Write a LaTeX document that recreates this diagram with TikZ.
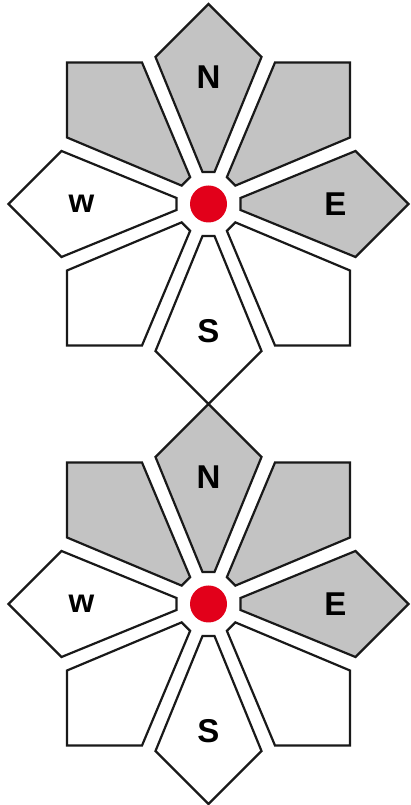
\documentclass[tikz,border=0pt]{standalone}
\usepackage{fontspec}
\setmainfont{Liberation Sans}
\usetikzlibrary{calc}
\definecolor{petalgray}{RGB}{195,195,195}
\definecolor{hubred}{RGB}{226,0,26}
\tikzstyle{petal}=[draw=black!90,line width=2.2pt,line join=miter]
\tikzstyle{hub}=[circle,fill=hubred,minimum size=37pt,inner sep=0pt]
\tikzstyle{letter}=[font=\fontsize{33}{33}\selectfont\bfseries,inner sep=0pt]

\begin{document}
\begin{tikzpicture}[x=1pt,y=1pt]
    \useasboundingbox (0,0) rectangle (411,805);

    \foreach \pos/ \name in {{(208.5,601)/top},{(208.5,201)/bottom}}
        \node[hub] (\name) at \pos {};

    % eight petals round each hub, the upper half shaded
    \foreach \rose in {top,bottom}
      \foreach \ang/\shade in {0/petalgray, 45/petalgray, 90/petalgray, 135/petalgray, 180/white, 225/white, 270/white, 315/white}
        \path[petal,fill=\shade,shift={(\rose)},rotate=\ang] (32,-6) -- (147,-53) -- (200,0) -- (147,53) -- (32,6) -- cycle;

    \foreach \rose in {top,bottom}
      \foreach \ang/ \name/ \txt in {90/n/N, 0/e/E, 270/s/S, 180/w/w}
        \node[letter] (\rose\name) at ($(\rose)+(\ang:127)$) {\txt};

\end{tikzpicture}
\end{document}
